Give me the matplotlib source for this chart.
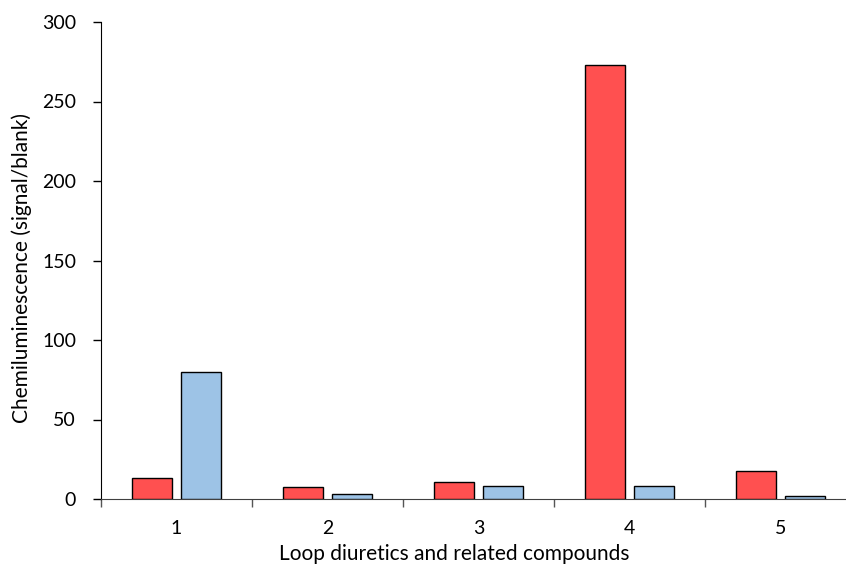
import matplotlib
matplotlib.use('agg')
import matplotlib.pyplot as plt
import numpy as np

categories = ['1', '2', '3', '4', '5']
red_values = [13, 7.4, 10.9, 272.7, 17.8]
blue_values = [80, 3, 8.4, 8.4, 2.1]
y_ticks = [0, 50, 100, 150, 200, 250, 300]

plt.rcParams['font.family'] = ['Lato', 'DejaVu Sans']
tick_fs = 14
label_fs = 15

fig = plt.figure(figsize=(8.46, 5.71), dpi=100)
ax = fig.add_axes([101 / 846, 72 / 571, 755 / 846, 477 / 571])

x = np.arange(1, len(categories) + 1)
width = 0.265
gap = 0.063
ax.bar(x - (width + gap) / 2, red_values, width, color='#FF5050', edgecolor='black', linewidth=1, zorder=3)
ax.bar(x + (width + gap) / 2, blue_values, width, color='#9DC3E6', edgecolor='black', linewidth=1, zorder=3)

ax.set_xlim(0.5, 5.5)
ax.set_ylim(0, 300)
ax.set_yticks(y_ticks)
ax.tick_params(axis='y', direction='out', length=6, width=1, labelsize=tick_fs, pad=12)

# ticks between categories, labels at category centres
ax.set_xticks(np.arange(0.5, 6, 1))
ax.set_xticklabels([])
ax.set_xticks(x, minor=True)
ax.set_xticklabels(categories, minor=True)
ax.tick_params(axis='x', which='major', direction='out', length=6, width=1, color='#555555')
ax.tick_params(axis='x', which='minor', length=0, labelsize=tick_fs, pad=15)

for s in ['top', 'right']:
    ax.spines[s].set_visible(False)
ax.spines['left'].set_color('black')
ax.spines['bottom'].set_color('#404040')

ax.set_ylabel('Chemiluminescence (signal/blank)', fontsize=label_fs)
ax.yaxis.set_label_coords(-0.092, 0.485)
ax.set_xlabel('Loop diuretics and related compounds', fontsize=label_fs, labelpad=5)
ax.xaxis.label.set_x(0.4675)

fig.savefig('out.png', dpi=100)
